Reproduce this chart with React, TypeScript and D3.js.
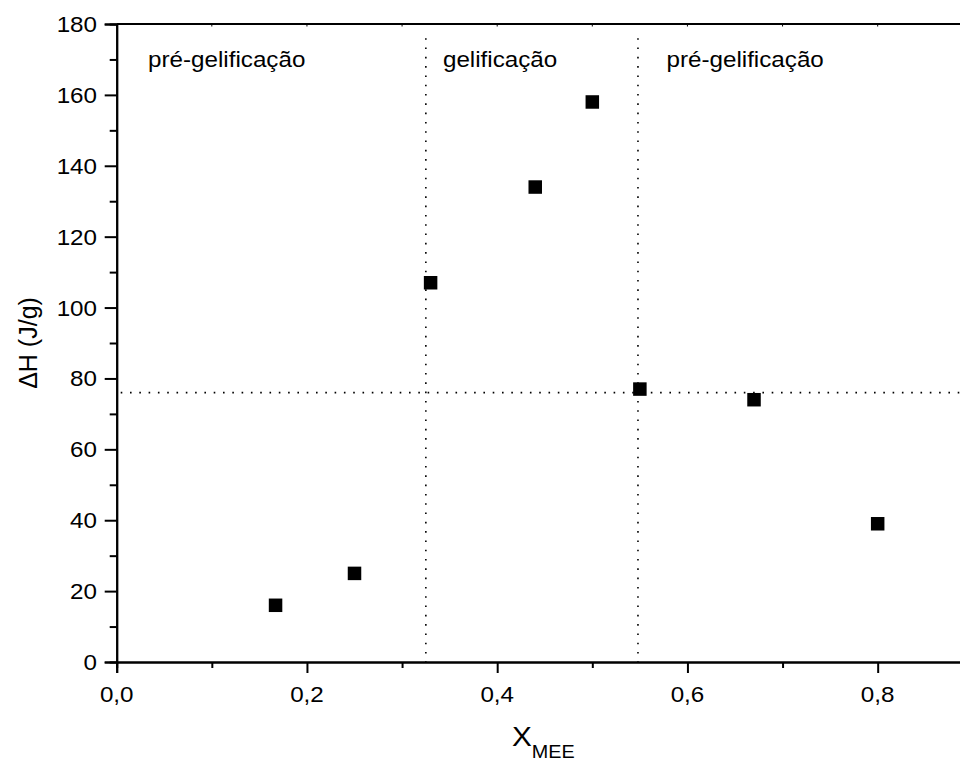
import React, { useEffect, useRef } from 'react';
import * as d3 from 'd3';

// valores
const xMee = [0.167, 0.25, 0.33, 0.44, 0.5, 0.55, 0.67, 0.8];
const deltaH = [16, 25, 107, 134, 158, 77, 74, 39];
const xTicks = [0, 0.2, 0.4, 0.6, 0.8];
const xMinor = [0.1, 0.3, 0.5, 0.7];
const yTicks = [0, 20, 40, 60, 80, 100, 120, 140, 160, 180];
const yMinor = [10, 30, 50, 70, 90, 110, 130, 150, 170];
const boundaries = [0.325, 0.548];
const refDeltaH = 76;
const regionLabels = ['pré-gelificação', 'gelificação', 'pré-gelificação'];
const regionLabelX = [0.033, 0.343, 0.578];
const regionLabelValue = 168;

const FONT = '"Liberation Sans", Arial, sans-serif';
const SX = 1.1; // o texto original é um pouco esticado na horizontal

const App = () => {
  const ref = useRef<SVGSVGElement | null>(null);

  useEffect(() => {
    const svg = d3.select(ref.current);
    svg.selectAll('*').remove();

    const width = 960;
    const height = 762;

    const x = d3.scaleLinear().domain([0, 0.9]).range([116.7, 972.8]);
    const y = d3.scaleLinear().domain([0, 180]).range([662, 24]);

    const fmt = (d: number) => d3.format('.1f')(d).replace('.', ',');

    svg.attr('width', width).attr('height', height).attr('viewBox', [0, 0, width, height]);

    // linhas pontilhadas
    const dots = svg.append('g')
      .attr('stroke', '#000')
      .attr('stroke-width', 1.6)
      .attr('stroke-dasharray', '1.6 7.7');

    boundaries.forEach(b => {
      dots.append('line')
        .attr('x1', x(b)).attr('x2', x(b))
        .attr('y1', y(176)).attr('y2', y(0));
    });
    dots.append('line')
      .attr('x1', x(0) + 4).attr('x2', x(0.9))
      .attr('y1', y(refDeltaH)).attr('y2', y(refDeltaH));

    // moldura superior com ticks espelhados
    svg.append('line')
      .attr('x1', x(0)).attr('x2', x(0.9))
      .attr('y1', y(180)).attr('y2', y(180))
      .attr('stroke', '#000').attr('stroke-width', 2);
    [...xTicks, ...xMinor].forEach(t => {
      svg.append('line')
        .attr('x1', x(t)).attr('x2', x(t))
        .attr('y1', y(180)).attr('y2', y(180) + 2.5)
        .attr('stroke', '#000').attr('stroke-width', 1);
    });

    // eixo y
    const gy = svg.append('g').attr('transform', `translate(${x(0)},0)`);
    gy.call(d3.axisLeft(y).tickValues(yTicks).tickSize(12).tickFormat(() => ''));
    gy.append('g').call(d3.axisLeft(y).tickValues(yMinor).tickSize(7).tickFormat(() => ''));
    gy.selectAll('path').attr('stroke-width', 2);
    gy.selectAll('line').attr('stroke-width', 2);

    // eixo x
    const gx = svg.append('g').attr('transform', `translate(0,${y(0)})`);
    gx.call(d3.axisBottom(x).tickValues(xTicks).tickSize(11).tickFormat(() => ''));
    gx.append('g').call(d3.axisBottom(x).tickValues(xMinor).tickSize(6).tickFormat(() => ''));
    gx.selectAll('path').attr('stroke-width', 2);
    gx.selectAll('line').attr('stroke-width', 2);
    svg.selectAll('.domain').attr('stroke', '#000');

    // rótulos dos ticks
    yTicks.forEach(t => {
      svg.append('text')
        .attr('transform', `translate(97,${y(t) + 8}) scale(${SX},1)`)
        .attr('text-anchor', 'end')
        .attr('font-family', FONT)
        .attr('font-size', 22)
        .text(t);
    });
    xTicks.forEach(t => {
      svg.append('text')
        .attr('transform', `translate(${x(t)},702) scale(${SX},1)`)
        .attr('text-anchor', 'middle')
        .attr('font-family', FONT)
        .attr('font-size', 22)
        .text(fmt(t));
    });

    // rótulos das regiões
    regionLabels.forEach((lab, i) => {
      svg.append('text')
        .attr('transform', `translate(${x(regionLabelX[i])},${y(regionLabelValue)}) scale(${SX},1)`)
        .attr('font-family', FONT)
        .attr('font-size', 22)
        .text(lab);
    });

    // pontos
    const s = 13.5;
    svg.append('g')
      .selectAll('rect')
      .data(xMee.map((v, i) => ({ x: v, y: deltaH[i] })))
      .join('rect')
      .attr('x', d => x(d.x) - s / 2)
      .attr('y', d => y(d.y) - s / 2)
      .attr('width', s)
      .attr('height', s)
      .attr('fill', '#000');

    // títulos dos eixos
    svg.append('text')
      .attr('transform', `translate(37,${(y(0) + y(180)) / 2}) rotate(-90)`)
      .attr('text-anchor', 'middle')
      .attr('font-family', FONT)
      .attr('font-size', 25)
      .text('ΔH (J/g)');

    const xt = svg.append('text')
      .attr('transform', `translate(512,746) scale(${SX},1)`)
      .attr('font-family', FONT)
      .attr('font-size', 27);
    xt.append('tspan').text('X');
    xt.append('tspan').attr('font-size', 18).attr('dy', 12).text('MEE');
  }, []);

  return (
    <div style={{ position: 'absolute', left: 0, top: 0, width: 960, height: 762, overflow: 'hidden', background: '#fff' }}>
      <svg ref={ref}></svg>
    </div>
  );
};

export default App;
